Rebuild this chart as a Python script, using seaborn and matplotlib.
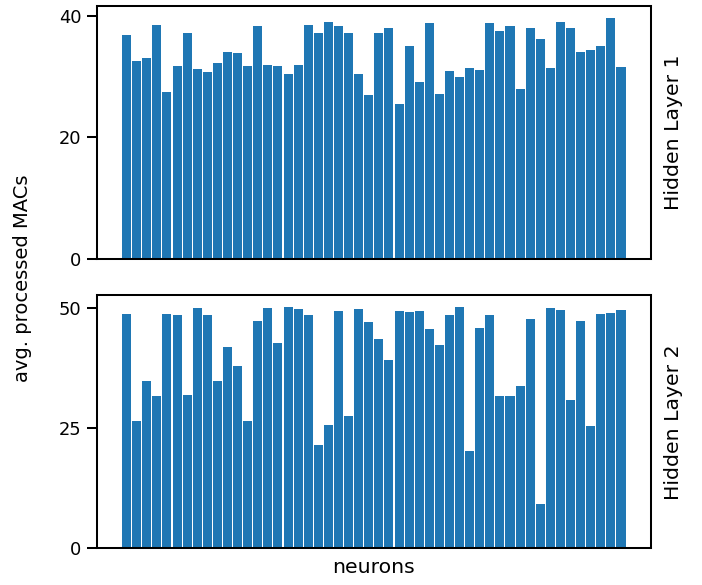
import numpy as np
import pandas as pd
import matplotlib
matplotlib.use("Agg")
import matplotlib.pyplot as plt
import seaborn as sns

# Average processed MACs per neuron, one value per neuron (50 neurons per layer)
layer1_macs = [
    36.9, 32.6, 33.1, 38.6, 27.5, 31.8, 37.2, 31.3, 30.8, 32.3,
    34.1, 33.9, 31.8, 38.4, 31.9, 31.8, 30.4, 31.9, 38.6, 37.2,
    39.1, 38.4, 37.2, 30.4, 27.0, 37.2, 38.1, 25.5, 35.1, 29.1,
    38.9, 27.1, 30.9, 29.9, 31.4, 31.1, 38.9, 37.6, 38.4, 28.0,
    38.1, 36.2, 31.4, 39.1, 38.1, 34.1, 34.4, 35.1, 39.7, 31.6,
]
layer2_macs = [
    48.7, 26.5, 34.8, 31.7, 48.7, 48.5, 31.9, 49.9, 48.5, 34.8,
    41.8, 38.0, 26.5, 47.2, 49.9, 42.8, 50.1, 49.7, 48.5, 21.4,
    25.6, 49.3, 27.5, 49.7, 47.0, 43.6, 39.2, 49.3, 49.1, 49.3,
    45.7, 42.2, 48.5, 50.1, 20.2, 45.9, 48.5, 31.7, 31.7, 33.8,
    47.6, 9.1, 49.9, 49.5, 30.9, 47.2, 25.4, 48.7, 48.9, 49.5,
]
layer_names = ["Hidden Layer 1", "Hidden Layer 2"]
layer_ticks = [[0, 20, 40], [0, 25, 50]]

sns.set_theme(style="ticks", rc={
    "axes.edgecolor": "black",
    "axes.labelcolor": "black",
    "text.color": "black",
    "xtick.color": "black",
    "ytick.color": "black",
    "axes.labelsize": 12.5,
    "xtick.labelsize": 11,
    "ytick.labelsize": 11,
})
plt.rcParams["font.family"] = ["DejaVu Sans"]

fig, axes = plt.subplots(2, 1, figsize=(6, 5), dpi=117)
fig.subplots_adjust(left=0.138, right=0.927, top=0.990, bottom=0.063, hspace=0.146)

for ax, macs, name, ticks in zip(axes, [layer1_macs, layer2_macs], layer_names, layer_ticks):
    df = pd.DataFrame({"neuron": np.arange(len(macs)), "macs": macs})
    sns.barplot(data=df, x="neuron", y="macs", native_scale=True, width=0.9,
                color="#1f77b4", saturation=1, linewidth=0, errorbar=None, ax=ax)
    ax.set_xticks([])
    ax.set_yticks(ticks)
    ax.set_xlabel("")
    ax.yaxis.set_label_position("right")
    ax.set_ylabel(name, labelpad=8)

axes[1].set_xlabel("neurons", labelpad=6)
fig.text(0.032, 0.524, "avg. processed MACs", rotation=90, ha="center", va="center",
         fontsize=12)

fig.savefig("out.png", dpi=117)
